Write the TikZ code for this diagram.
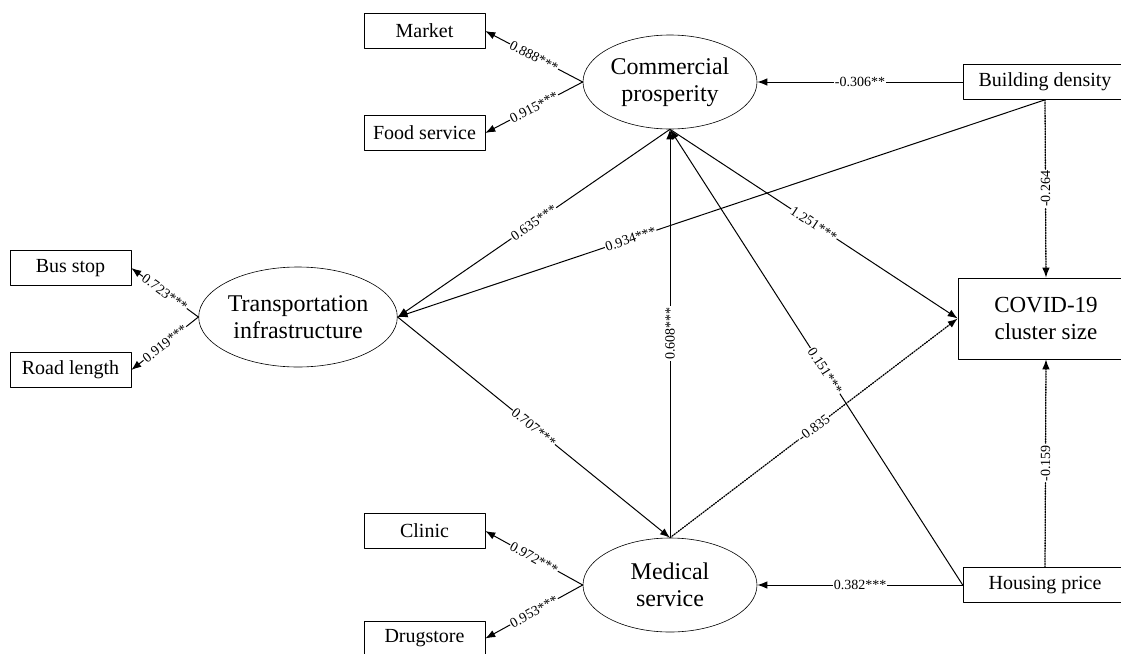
\documentclass[tikz,border=0pt]{standalone}
\usepackage{fontspec}
\setmainfont{Liberation Serif}
\usetikzlibrary{arrows.meta,shapes.geometric}

\begin{document}
\begin{tikzpicture}[x=1pt,y=-1pt,line cap=round,line join=round,>={Latex[length=10pt,width=7.5pt]},
	box/.style={draw,line width=0.6pt,minimum width=121pt,minimum height=35pt,inner sep=0pt,font=\fontsize{20}{24}\selectfont},
	latent/.style={draw,ellipse,line width=0.6pt,inner sep=0pt,align=center,font=\fontsize{24}{27}\selectfont},
	lnk/.style={->,line width=1pt},
	weak/.style={->,line width=1.3pt,dash pattern=on 1.2pt off 1.4pt},
	coef/.style={midway,sloped,fill=white,inner sep=0.8pt,font=\fontsize{14}{15}\selectfont},
	vcoef/.style={midway,rotate=90,fill=white,inner sep=0.8pt,font=\fontsize{14}{15}\selectfont}]
			\useasboundingbox (0,0) rectangle (1121,653);
			% latent variables
			\node[latent,minimum width=174pt,minimum height=94pt] (comm) at (670,82) {Commercial\\prosperity};
			\node[latent,minimum width=196pt,minimum height=100pt] (trans) at (298,317) {Transportation\\infrastructure};
			\node[latent,minimum width=174pt,minimum height=94pt] (med) at (670,585) {Medical\\service};
			% indicators
			\node[box] (market) at (424.5,31) {Market};
			\node[box] (food) at (424.5,133) {Food service};
			\node[box] (bus) at (70.5,268) {Bus stop};
			\node[box] (road) at (70.5,370) {Road length};
			\node[box] (clinic) at (424.5,531) {Clinic};
			\node[box] (drug) at (424.5,638.5) {Drugstore};
			% exogenous and outcome
			\node[box,minimum width=164pt] (bd) at (1045,82) {Building density};
			\node[box,minimum width=164pt] (hp) at (1045,585) {Housing price};
			\node[box,minimum width=176pt,minimum height=81pt,align=center,font=\fontsize{23}{27}\selectfont] (covid) at (1046,318.5) {COVID-19\\cluster size};
			% loadings
			\draw[lnk] (comm.west) -- (market.east) node[coef] {0.888***};
			\draw[lnk] (comm.west) -- (food.east) node[coef] {0.915***};
			\draw[lnk] (trans.west) -- (bus.east) node[coef] {0.723***};
			\draw[lnk] (trans.west) -- (road.east) node[coef] {0.919***};
			\draw[lnk] (med.west) -- (clinic.east) node[coef] {0.972***};
			\draw[lnk] (med.west) -- (drug.east) node[coef] {0.953***};
			% structural paths
			\draw[lnk] (bd.west) -- (comm.east) node[coef] {-0.306**};
			\draw[lnk] (bd.south) -- (trans.east) node[coef,pos=0.64] {0.934***};
			\draw[weak] (bd.south) -- (covid.north) node[vcoef] {-0.264};
			\draw[lnk] (comm.south) -- (trans.east) node[coef] {0.635***};
			\draw[lnk] (comm.south) -- (covid.west) node[coef] {1.251***};
			\draw[lnk] (med.north) -- (comm.south) node[vcoef] {0.608***};
			\draw[lnk] (trans.east) -- (med.north) node[coef] {0.707***};
			\draw[weak] (med.north) -- (covid.west) node[coef] {-0.835};
			\draw[lnk] (hp.west) -- (comm.south) node[coef,pos=0.47] {0.151***};
			\draw[lnk] (hp.west) -- (med.east) node[coef] {0.382***};
			\draw[weak] (hp.north) -- (covid.south) node[vcoef] {-0.159};
		\end{tikzpicture}
\end{document}
